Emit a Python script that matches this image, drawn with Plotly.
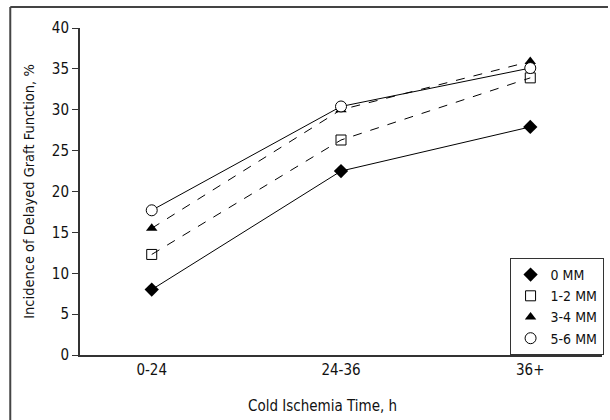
import plotly.graph_objects as go

categories = ["0-24", "24-36", "36+"]
series_names = ["0 MM", "1-2 MM", "3-4 MM", "5-6 MM"]
mm0 = [8.0, 22.5, 27.9]
mm12 = [12.3, 26.3, 33.9]
mm34 = [15.5, 30.0, 35.9]
mm56 = [17.7, 30.4, 35.1]
y_ticks = [0, 5, 10, 15, 20, 25, 30, 35, 40]

W, H = 610, 420
L, R, T, B = 80, 6, 28, 65
FONT = "DejaVu Sans Condensed, Liberation Sans Narrow, Arial Narrow, sans-serif"

styles = [
    (mm0, dict(symbol="diamond", color="black", size=11, line=dict(width=0)), "solid"),
    (mm12, dict(symbol="square-open", color="black", size=10, line=dict(width=1)), "dash"),
    (mm34, dict(symbol="triangle-up", color="black", size=10, line=dict(width=0)), "dash"),
    (mm56, dict(symbol="circle", color="white", size=11, line=dict(color="black", width=1)), "solid"),
]

fig = go.Figure()
x_idx = list(range(len(categories)))
for name, (vals, mk, dash) in zip(series_names, styles):
    fig.add_trace(go.Scatter(
        x=x_idx, y=vals, mode="lines+markers", name=name,
        line=dict(color="black", width=1, dash=dash),
        marker=mk, showlegend=False, cliponaxis=False,
    ))
for name, (vals, mk, dash) in zip(series_names, styles):
    fig.add_trace(go.Scatter(
        x=[None], y=[None], mode="markers", name=name, marker=mk, showlegend=True,
    ))

pw = W - L - R
ph = H - T - B
def px_x(p):
    return (p - L) / pw
def px_y(p):
    return (H - B - p) / ph

fig.update_layout(
    width=W, height=H,
    margin=dict(l=L, r=R, t=T, b=B, pad=0),
    paper_bgcolor="white", plot_bgcolor="white",
    font=dict(family=FONT, size=15, color="#111"),
    xaxis=dict(
        range=[-0.379, 2.379], tickmode="array", tickvals=x_idx, ticktext=categories,
        showgrid=False, zeroline=False, showline=True, linecolor="#333", linewidth=2,
        ticks="", tickfont=dict(size=15),
    ),
    yaxis=dict(
        range=[0, 40], tickmode="array", tickvals=y_ticks,
        showgrid=False, zeroline=False, showline=True, linecolor="#333", linewidth=2,
        ticks="outside", ticklen=6, tickwidth=1, tickcolor="#333",
        title=dict(text="Incidence of Delayed Graft Function, %", standoff=14,
                   font=dict(size=14.5)),
        tickfont=dict(size=15),
    ),
    legend=dict(
        x=1.003, y=px_y(258), xanchor="right", yanchor="top",
        bgcolor="white", bordercolor="#333", borderwidth=1,
        font=dict(size=14), itemwidth=30, tracegroupgap=0,
    ),
    annotations=[
        dict(text="Cold Ischemia Time, h", xref="paper", yref="paper",
             x=px_x(323), y=px_y(406), xanchor="center", yanchor="middle",
             showarrow=False, font=dict(size=15)),
    ],
    shapes=[
        dict(type="line", xref="paper", yref="paper", x0=px_x(10), x1=px_x(610),
             y0=px_y(7), y1=px_y(7), line=dict(color="#444", width=2)),
        dict(type="line", xref="paper", yref="paper", x0=px_x(10), x1=px_x(10),
             y0=px_y(7), y1=px_y(420), line=dict(color="#444", width=2)),
    ],
)

fig.write_html("out.html")
